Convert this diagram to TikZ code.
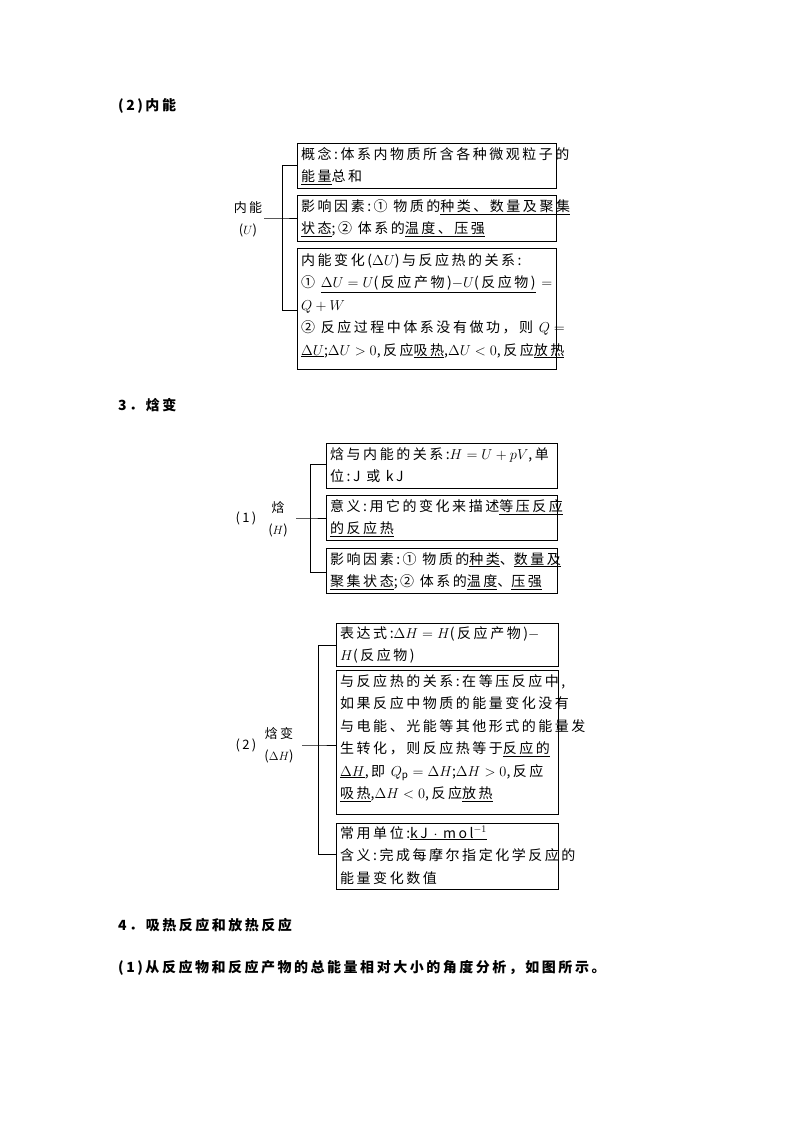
\documentclass[tikz,border=0pt]{standalone}
\usepackage{fontspec}
\setmainfont{Noto Sans CJK SC}[LetterSpace=18]
\newcommand\myul[1]{$\underline{\hbox{#1}}$}
\tikzset{
 bx/.style={draw,line width=0.8pt},
 tx/.style={anchor=north west,align=left,inner sep=0pt,font=\fontsize{14}{22.5}\selectfont},
 lb/.style={align=center,inner sep=0pt,font=\fontsize{13}{22}\selectfont},
 hd/.style={anchor=west,inner sep=0pt,font=\fontsize{14}{18}\selectfont\bfseries},
 br/.style={line width=0.8pt}
}
\begin{document}
\begin{tikzpicture}[x=1pt,y=-1pt]
\useasboundingbox (0,0) rectangle (794,1123);
\node[hd] (h1) at (118,106) {(2)内能};
% section 1
\draw[bx] (297,143) rectangle (556,188);
\draw[bx] (297,195) rectangle (556,241);
\draw[bx] (297,248) rectangle (556,369);
\node[tx] (a1) at (301,147) {概念:体系内物质所含各种微观粒子的\\\myul{能量}总和};
\node[tx] (a2) at (301,199) {影响因素:① 物质的\myul{种类、数量及聚集}\\\myul{状态};② 体系的\myul{温度、压强}};
\node[tx] (a3) at (301,253) {内能变化($\Delta U$)与反应热的关系:\\① \myul{$\Delta U=U$(反应产物)$-U$(反应物)} $=$\\$Q+W$\\② 反应过程中体系没有做功，则 $Q=$\\\myul{$\Delta U$};$\Delta U>0$,反应\myul{吸热},$\Delta U<0$,反应\myul{放热}};
\node[lb] (L1) at (248,219) {内能\\($U$)};
\coordinate (j1) at (282,218);
\draw[br] (264,218) -- (j1) -- (297,218);
\draw[br] (297,165) -- (282,165) -- (282,310) -- (297,310);
\node[hd] (h2) at (118,405) {3．焓变};
% section 2
\draw[bx] (326,443) rectangle (557,488);
\draw[bx] (326,495) rectangle (557,540);
\draw[bx] (326,548) rectangle (557,593);
\node[tx] (b1) at (330,447) {焓与内能的关系:$H=U+pV$,单\\位:J 或 kJ};
\node[tx] (b2) at (330,499) {意义:用它的变化来描述\myul{等压反应}\\\myul{的反应热}};
\node[tx] (b3) at (330,552) {影响因素:① 物质的\myul{种类}、\myul{数量及}\\\myul{聚集状态};② 体系的\myul{温度}、\myul{压强}};
\node[lb] (n1) at (246,518) {(1)};
\node[lb] (L2) at (278,519) {焓\\($H$)};
\coordinate (j2) at (310,518);
\draw[br] (296,518) -- (j2) -- (326,518);
\draw[br] (326,464) -- (310,464) -- (310,572) -- (326,572);
% section 3
\draw[bx] (336,623) rectangle (558,666);
\draw[bx] (336,670) rectangle (558,814);
\draw[bx] (336,823) rectangle (558,889);
\node[tx] (c1) at (340,626) {表达式:$\Delta H=H$(反应产物)$-$\\$H$(反应物)};
\node[tx] (c2) at (340,674) {与反应热的关系:在等压反应中,\\如果反应中物质的能量变化没有\\与电能、光能等其他形式的能量发\\生转化，则反应热等于\myul{反应的}\\\myul{$\Delta H$},即 $Q_{\mathrm p}=\Delta H$;$\Delta H>0$,反应\\\myul{吸热},$\Delta H<0$,反应\myul{放热}};
\node[tx] (c3) at (340,826) {常用单位:\myul{kJ $\cdot$ mol$^{-1}$}\\含义:完成每摩尔指定化学反应的\\能量变化数值};
\node[lb] (n2) at (246,745) {(2)};
\node[lb] (L3) at (279,745) {焓变\\($\Delta H$)};
\coordinate (j3) at (318,745);
\draw[br] (302,745) -- (j3) -- (336,745);
\draw[br] (336,645) -- (318,645) -- (318,854) -- (336,854);
\node[hd] (h3) at (118,925) {4．吸热反应和放热反应};
\node[hd] (h4) at (118,968) {(1)从反应物和反应产物的总能量相对大小的角度分析，如图所示。};
\end{tikzpicture}
\end{document}
